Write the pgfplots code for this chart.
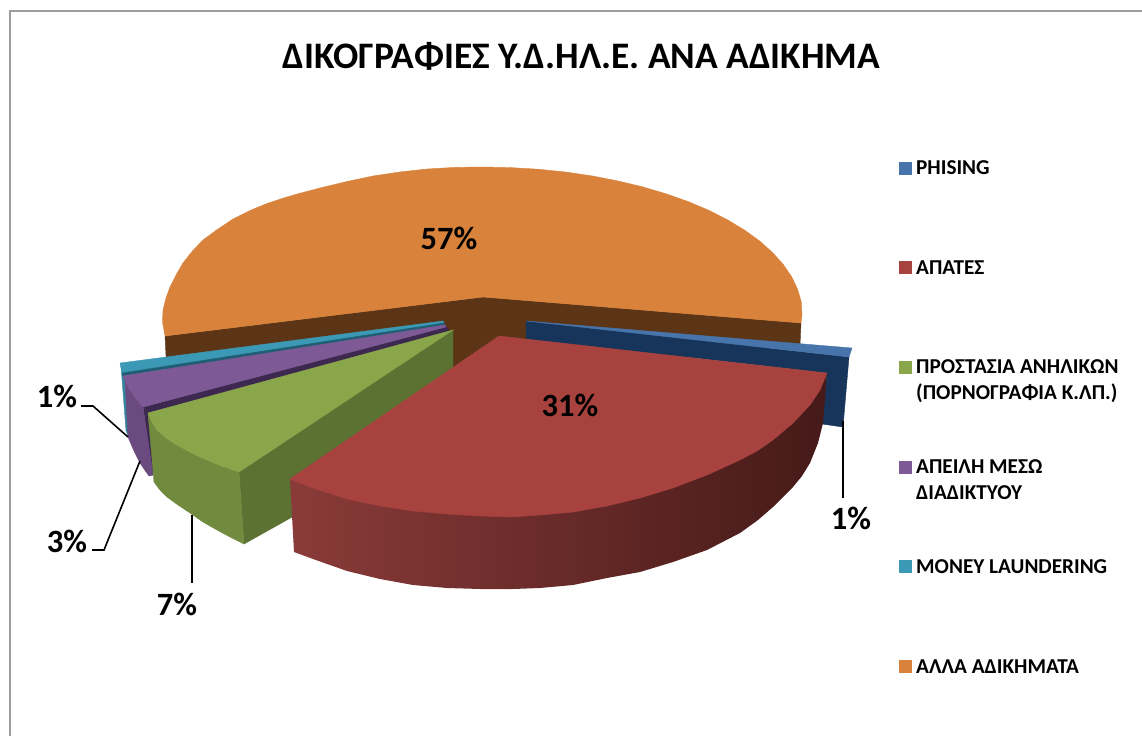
\documentclass[border=0pt]{standalone}
\usepackage{fontspec}
\setmainfont{Carlito}
\usepackage{pgfplots}
\pgfplotsset{compat=1.18}
\definecolor{cOr}{HTML}{D9823B}
\definecolor{cBr}{HTML}{5C3516}
\definecolor{cBl}{HTML}{4674AB}
\definecolor{cBd}{HTML}{17355A}
\definecolor{cRe}{HTML}{A8423F}
\definecolor{cRl}{HTML}{8A3B39}
\definecolor{cRm}{HTML}{512120}
\definecolor{cRr}{HTML}{451A18}
\definecolor{cGr}{HTML}{8AA64A}
\definecolor{cGo}{HTML}{708B3E}
\definecolor{cGd}{HTML}{5C7233}
\definecolor{cPu}{HTML}{7D5A96}
\definecolor{cPw}{HTML}{6B4A80}
\definecolor{cPd}{HTML}{3D2850}
\definecolor{cTe}{HTML}{3C99B5}
\definecolor{cTw}{HTML}{34849C}
\definecolor{cTd}{HTML}{1F5F75}
\begin{document}
\begin{tikzpicture}
\begin{axis}[
  scale only axis, width=1142bp, height=736bp,
  xmin=0, xmax=1142, ymin=0, ymax=736, y dir=reverse,
  hide axis, clip=true,
  every axis plot/.append style={line width=0.4pt},
]
% page extent
\addplot[white, line width=0.1pt, no marks] coordinates {(0,0) (1142,0) (1142,736) (0,736) (0,0)};
% frame
\addplot[draw=black!38, line width=2pt, no marks] coordinates {(10,736) (10,11) (1142,11)};
% orange wall (behind everything)
\addplot[fill=cBr, draw=cBr, no marks] coordinates {(483,297) (801,323) (800,345) (520,372) (470,420) (300,420) (167,375) (165,336)} -- cycle;
% orange top
\addplot[fill=cOr, draw=cOr, no marks] coordinates {(483,297) (801,323) (802,315) (801.3,302.1) (797.6,289.3) (791.6,276.7) (783.2,264.4) (772.5,252.5) (759.6,241) (744.6,230.1) (727.6,219.9) (708.8,210.3) (688.2,201.6) (666.1,193.8) (642.5,186.8) (617.7,180.9) (592,175.9) (565.3,172) (538,169.2) (510.4,167.6) (482.5,167) (454.6,167.4) (427,169) (399.7,172) (373,176) (347,181.5) (322,187.5) (299,193.5) (282,198.5) (267,203.5) (250,210.5) (233,219) (218,229) (203,240) (192.5,251) (183,263) (176,275) (170,287) (166,298) (163,310) (162.5,322) (165,336)} -- cycle;
% blue slice
\addplot[fill=cBd, draw=cBd, no marks] coordinates {(526,321) (849,357) (843,427) (822,424) (827,373) (526,339)} -- cycle;
\addplot[fill=cBl, draw=cBl, no marks] coordinates {(526,321) (852,348) (849,357)} -- cycle;
% teal slice
\addplot[fill=cTw, draw=cTw, no marks] coordinates {(121,366) (125,378) (129,437) (126,431)} -- cycle;
\addplot[fill=cTe, draw=cTe, no marks] coordinates {(120,363) (443,321) (444,323) (122,373)} -- cycle;
\addplot[fill=cTd, draw=cTd, no marks] coordinates {(122,373) (444,323) (445,325) (123,376)} -- cycle;
% purple slice
\addplot[fill=cPd, draw=cPd, no marks] coordinates {(446,326) (143,407) (153,475) (155,470) (148,413) (450,332)} -- cycle;
\addplot[fill=cPw, draw=cPw, no marks] coordinates {(125,380) (130,390) (135,397) (143,407) (153,475) (149,476) (144,469) (140,463) (134,451) (128,437)} -- cycle;
\addplot[fill=cPu, draw=cPu, no marks] coordinates {(445,325) (123,376) (127,385) (130,390) (135,397) (143,407) (446,327)} -- cycle;
% green slice
\addplot[fill=cGd, draw=cGd, no marks] coordinates {(239,472) (244,544) (453,427) (453,330)} -- cycle;
\addplot[fill=cGo, draw=cGo, no marks] coordinates {(148,413) (152,422) (157,430) (166,438) (177,445) (188,451) (200,457) (219,465) (239,472) (244,544) (230,537) (217,530) (203,522) (190,513) (178,505) (167,497) (160,490) (154,482)} -- cycle;
\addplot[fill=cGr, draw=cGr, no marks] coordinates {(453,330) (148,413) (152,422) (157,430) (166,438) (177,445) (188,451) (200,457) (219,465) (239,472)} -- cycle;
% red slice
\addplot[draw=none, shade, shading=axis, left color=cRl, middle color=cRm, right color=cRr, no marks] coordinates {(290,479) (294,552) (313,559) (347,571) (380,579) (413,585) (447,588) (480,589) (513,589) (540,588) (573,585) (607,578) (640,572) (673,562) (707,550) (740,533) (758,520) (773,507) (793,487) (802,476) (810,463) (818,443) (823,423) (827,373) (500,400)} -- cycle;
\addplot[fill=cRe, draw=cRe, no marks] coordinates {(499,336) (827,373) (820,390) (810,405) (793,423) (773,440) (757,451) (740,460) (707,475) (673,488) (640,498) (607,506) (573,512) (540,515) (513,517) (480,516) (447,514) (413,511) (380,506) (347,499) (313,488) (290,479)} -- cycle;
% leader lines
\addplot[black, line width=1.6pt, no marks] coordinates {(843,421) (843,498)};
\addplot[black, line width=1.6pt, no marks] coordinates {(81,406) (93,406) (128,437)};
\addplot[black, line width=1.6pt, no marks] coordinates {(92,550) (104,550) (140,461)};
\addplot[black, line width=1.6pt, no marks] coordinates {(192,515) (192,583)};
% legend keys
\addplot[only marks, mark=square*, mark size=5.7bp, mark options={fill=cBl, draw=cBl}] coordinates {(905,168)};
\addplot[only marks, mark=square*, mark size=5.7bp, mark options={fill=cRe, draw=cRe}] coordinates {(905,267)};
\addplot[only marks, mark=square*, mark size=5.7bp, mark options={fill=cGr, draw=cGr}] coordinates {(905,367)};
\addplot[only marks, mark=square*, mark size=5.7bp, mark options={fill=cPu, draw=cPu}] coordinates {(905,467)};
\addplot[only marks, mark=square*, mark size=5.7bp, mark options={fill=cTe, draw=cTe}] coordinates {(905,566)};
\addplot[only marks, mark=square*, mark size=5.7bp, mark options={fill=cOr, draw=cOr}] coordinates {(905,666)};
% text
\node[font=\fontsize{37.4bp}{40bp}\selectfont\bfseries] at (axis cs:581.5,56) {ΔΙΚΟΓΡΑΦΙΕΣ Υ.Δ.ΗΛ.Ε. ΑΝΑ ΑΔΙΚΗΜΑ};
\begin{scope}[every node/.style={anchor=west, inner sep=0pt, font=\fontsize{21.2bp}{26bp}\selectfont\bfseries, align=left}]
\node at (axis cs:916,168) {PHISING};
\node at (axis cs:916,268) {ΑΠΑΤΕΣ};
\node at (axis cs:916,381) {ΠΡΟΣΤΑΣΙΑ ΑΝΗΛΙΚΩΝ\\(ΠΟΡΝΟΓΡΑΦΙΑ Κ.ΛΠ.)};
\node at (axis cs:916,480) {ΑΠΕΙΛΗ ΜΕΣΩ\\ΔΙΑΔΙΚΤΥΟΥ};
\node at (axis cs:916,567) {MONEY LAUNDERING};
\node at (axis cs:916,667) {ΑΛΛΑ ΑΔΙΚΗΜΑΤΑ};
\end{scope}
\begin{scope}[every node/.style={font=\fontsize{32.5bp}{34bp}\selectfont\bfseries}]
\node at (axis cs:449,238) {57\%};
\node at (axis cs:570,405) {31\%};
\node at (axis cs:851,518) {1\%};
\node at (axis cs:57,396) {1\%};
\node at (axis cs:67,541) {3\%};
\node at (axis cs:177,604) {7\%};
\end{scope}
\end{axis}
\end{tikzpicture}
\end{document}
